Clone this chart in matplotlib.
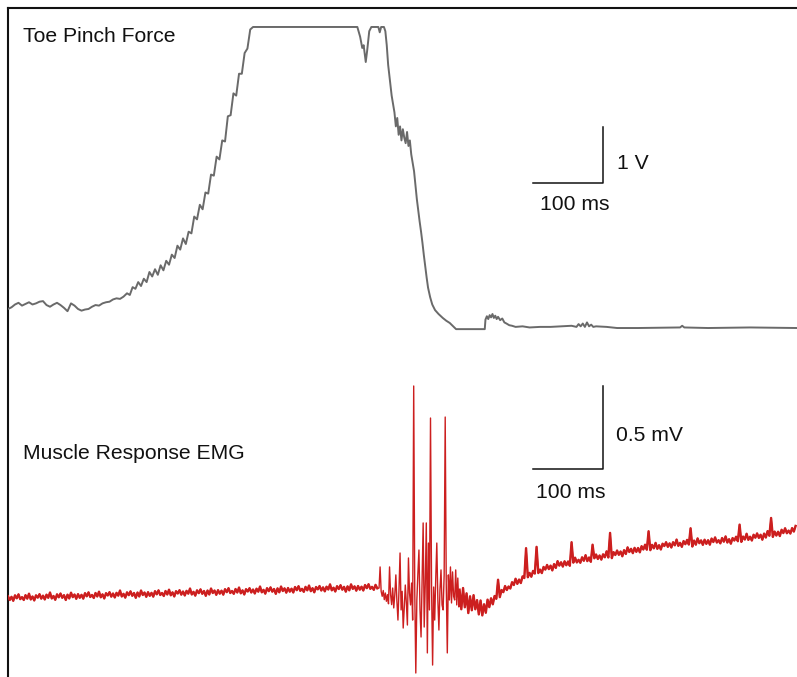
"""
Toe pinch withdrawal trial: force transducer trace above, EMG below,
each with its own calibration bar. Writes out.png.
"""

import matplotlib
matplotlib.use("Agg")
import matplotlib.pyplot as plt
import numpy as np

# ── Canvas ────────────────────────────────────────────────────────────────────

W, H = 797, 677
DPI = 100

FONT = "Liberation Sans"
FS = 15.2
FORCE_COLOR = "#6a6a6a"
EMG_COLOR = "#cc1f1f"
INK = "#111111"

T_MAX_MS = 1127          # visible sweep length
BAR_T0, BAR_LEN_MS = 750, 100

# ── Force trace (V) ───────────────────────────────────────────────────────────

# resting baseline, sampled every 5 ms from 0 ms
FORCE_BASE_V = [0.34, 0.37, 0.42, 0.45, 0.40, 0.43, 0.46, 0.42, 0.44, 0.47,
                0.48, 0.41, 0.38, 0.42, 0.45, 0.41, 0.36, 0.30, 0.44, 0.40,
                0.34, 0.31, 0.33, 0.34, 0.38, 0.41, 0.40, 0.44, 0.46, 0.47,
                0.51, 0.53, 0.52, 0.56]

# pinch onset, sampled every 4 ms from 170 ms
FORCE_RISE_V = [0.62, 0.59, 0.73, 0.70, 0.82, 0.75, 0.88, 0.82, 1.00, 0.92,
                1.05, 0.95, 1.12, 1.03, 1.20, 1.13, 1.31, 1.25, 1.47, 1.40,
                1.60, 1.50, 1.72, 1.69, 1.99, 1.94, 2.20, 2.12, 2.42, 2.40,
                2.74, 2.72, 3.06, 3.01, 3.35, 3.33, 3.78, 3.80, 4.19, 4.15,
                4.54, 4.54, 4.91, 4.99, 5.33, 5.375]

# saturated plateau
FORCE_TOP_T = [354, 499, 503, 506, 508, 510, 511, 513, 516, 519, 529, 531, 533, 537]
FORCE_TOP_V = [5.375, 5.375, 5.2, 5.0, 5.05, 4.85, 4.75, 4.95, 5.3, 5.375,
               5.375, 5.28, 5.375, 5.375]

# release
FORCE_FALL_T = [539, 541, 543, 546, 548, 550, 552, 554, 556, 558,
                560, 562, 564, 566, 568, 570, 572, 574, 576, 578,
                580, 582, 584, 586, 588, 590, 592, 594, 596, 598,
                600, 603, 606, 610, 615, 621, 626, 631, 636, 640]
FORCE_FALL_V = [5.30, 5.05, 4.70, 4.36, 4.15, 4.00, 3.85, 3.60, 3.75, 3.45,
                3.60, 3.35, 3.55, 3.40, 3.30, 3.50, 3.25, 3.35, 3.10, 2.95,
                2.80, 2.55, 2.30, 2.10, 1.90, 1.72, 1.52, 1.30, 1.10, 0.90,
                0.72, 0.55, 0.42, 0.32, 0.25, 0.18, 0.13, 0.09, 0.03, -0.02]

# post-release tail
FORCE_TAIL_T = [681, 682, 684, 686, 688, 690, 692, 694, 696, 698,
                700, 703, 706, 709, 712, 716, 720, 725, 735, 745,
                760, 775, 790, 805, 812, 815, 818, 821, 824, 827,
                830, 833, 836, 840, 855, 870, 900, 960, 963, 966,
                1000, 1060, 1127]
FORCE_TAIL_V = [-0.02, 0.15, 0.21, 0.16, 0.23, 0.19, 0.25, 0.18, 0.22, 0.16,
                0.20, 0.14, 0.17, 0.10, 0.08, 0.05, 0.04, 0.02, 0.03, 0.01,
                0.02, 0.02, 0.03, 0.04, 0.02, 0.07, 0.03, 0.08, 0.02, 0.10,
                0.03, 0.06, 0.02, 0.03, 0.02, 0.00, 0.00, 0.01, 0.04, 0.01,
                0.00, 0.01, 0.00]

# ── EMG trace (µV) ────────────────────────────────────────────────────────────

# every 2.5 ms from 0 ms
EMG_PRE_UV = [10, -12, 7, -17, 16, -2, 22, -7, 5, -12,
              17, -4, 26, -9, 9, -15, 16, 2, 23, -4,
              14, -9, 20, 1, 33, -3, 12, -11, 22, 4,
              27, 1, 17, -12, 20, -3, 32, 5, 21, -5,
              23, 1, 19, -4, 29, 10, 34, 6, 18, 0,
              30, 9, 38, 4, 22, -3, 29, 15, 35, 8,
              27, 3, 31, 14, 45, 9, 25, 2, 34, 17,
              40, 13, 30, 1, 33, 9, 45, 18, 33, 7,
              35, 13, 31, 8, 41, 22, 46, 18, 30, 12,
              42, 21, 50, 16, 34, 9, 41, 27, 47, 20,
              39, 15, 43, 26, 57, 21, 37, 14, 46, 29,
              52, 25, 42, 13, 45, 21, 57, 30, 45, 19,
              47, 26, 44, 20, 53, 35, 59, 30, 42, 25,
              54, 33, 63, 28, 46, 21, 53, 39, 59, 33,
              51, 27, 56, 38, 69, 34, 49, 26, 59, 41,
              64, 38, 54, 25, 58, 34, 69, 42, 58, 32,
              60, 38, 56, 33, 66, 47, 71, 43, 55, 37,
              67, 46, 75, 41, 59, 34, 66, 52, 72, 45,
              64, 40, 68, 51, 82, 46, 62, 39, 71, 54,
              77, 50, 67, 38, 70, 46, 82, 55, 70, 44,
              72, 50, 68, 45, 78, 59, 83, 55, 67, 49,
              79, 58]

# reflex burst, every 1.5 ms from 530 ms
EMG_BURST_UV = [60, 187, 40, 10, 45, -10, 30, -20, 20, -35,
                187, 20, -40, 60, -60, 20, 139, -20, -133, 50,
                271, -72, 40, -181, -60, 78, -30, -163, 241, 30,
                -42, 90, -133, 1277, 40, -452, -12, 150, 289, -72,
                -235, 100, 452, -175, 80, 452, -331, 331, -72, 1084,
                60, -404, 66, -133, 120, 331, -12, -193, 50, 169,
                -42, -72, 139, 1090, 80, -331, 139, -12, 187, -30,
                157, 10, -12, 169, -42, 120, -54]

# recovery, every 2.5 ms from 645 ms
EMG_POST_UV = [50, -68, 60, -56, 28, -91, 10, -74, 17, -68,
               -13, -99, -15, -105, -38, -89, -10, -55, -2, -38,
               12, -5, 110, 5, 48, 35, 72, 48, 69, 57,
               95, 78, 116, 85, 111, 90, 130, 120, 300, 125,
               151, 128, 163, 147, 308, 150, 171, 150, 187, 171,
               199, 174, 195, 166, 204, 181, 222, 195, 215, 189,
               221, 197, 220, 194, 336, 213, 243, 214, 230, 212,
               245, 224, 258, 222, 244, 218, 321, 239, 262, 235,
               256, 231, 263, 245, 281, 244, 392, 240, 276, 259,
               286, 260, 280, 251, 288, 265, 305, 277, 296, 270,
               302, 278, 301, 275, 312, 292, 321, 291, 402, 288,
               320, 299, 332, 296, 318, 292, 327, 313, 336, 308,
               329, 304, 336, 317, 352, 314, 332, 308, 343, 324,
               350, 322, 420, 310, 346, 321, 359, 330, 347, 320,
               351, 326, 348, 321, 358, 337, 365, 334, 348, 329,
               361, 339, 371, 334, 354, 327, 361, 346, 369, 342,
               442, 338, 370, 352, 387, 350, 369, 346, 381, 363,
               389, 362, 381, 351, 388, 364, 403, 375, 482, 368,
               400, 376, 399, 373, 411, 391, 420, 390, 406, 388,
               421, 400, 434]


def sampled(start, step, values):
    return start + step * np.arange(len(values))


def px_box(x0, y0, x1, y1):
    """Figure-fraction rect from pixel corners (origin top-left)."""
    return [x0 / W, 1 - y1 / H, (x1 - x0) / W, (y1 - y0) / H]


def label(x, y, s):
    fig.text(x / W, 1 - y / H, s, ha="left", va="baseline",
             fontsize=FS, family=FONT, color=INK)


# ── Figure ────────────────────────────────────────────────────────────────────

fig = plt.figure(figsize=(W / DPI, H / DPI), dpi=DPI)
fig.patch.set_facecolor("white")

# outer frame: left and top edges only
frame = fig.add_axes(px_box(8, 8, W + 2, H + 2))
frame.set_xticks([])
frame.set_yticks([])
frame.patch.set_alpha(0)
for side in ("right", "bottom"):
    frame.spines[side].set_visible(False)
for side in ("left", "top"):
    frame.spines[side].set_linewidth(1.5)
    frame.spines[side].set_color(INK)

# force panel
ax_f = fig.add_axes(px_box(8, 8, W, 340))
ax_f.set_xlim(0, T_MAX_MS)
ax_f.set_ylim(-0.214, 5.714)
ax_f.axis("off")

force_t = np.concatenate([sampled(0, 5, FORCE_BASE_V), sampled(170, 4, FORCE_RISE_V),
                          FORCE_TOP_T, FORCE_FALL_T, FORCE_TAIL_T])
force_v = np.concatenate([FORCE_BASE_V, FORCE_RISE_V, FORCE_TOP_V,
                          FORCE_FALL_V, FORCE_TAIL_V])
ax_f.plot(force_t, force_v, color=FORCE_COLOR, lw=1.4)

bar_v0 = 2.589
ax_f.plot([BAR_T0, BAR_T0 + BAR_LEN_MS, BAR_T0 + BAR_LEN_MS],
          [bar_v0, bar_v0, bar_v0 + 1.0], color=INK, lw=1.1)

# EMG panel
ax_e = fig.add_axes(px_box(8, 340, W, H))
ax_e.set_xlim(0, T_MAX_MS)
ax_e.set_ylim(-476, 1554)
ax_e.axis("off")

pre_t = sampled(0, 2.5, EMG_PRE_UV)
post_t = sampled(645, 2.5, EMG_POST_UV)
emg_t = np.concatenate([pre_t, sampled(530, 1.5, EMG_BURST_UV), post_t])
emg_uv = np.concatenate([EMG_PRE_UV, EMG_BURST_UV, EMG_POST_UV])
# thin pen through the burst, heavier where the noise band is dense
ax_e.plot(emg_t, emg_uv, color=EMG_COLOR, lw=1.0)
ax_e.plot(pre_t, EMG_PRE_UV, color=EMG_COLOR, lw=1.7)
ax_e.plot(post_t, EMG_POST_UV, color=EMG_COLOR, lw=1.7)

bar_uv0 = 777
ax_e.plot([BAR_T0, BAR_T0 + BAR_LEN_MS, BAR_T0 + BAR_LEN_MS],
          [bar_uv0, bar_uv0, bar_uv0 + 500], color=INK, lw=1.1)

# ── Labels ────────────────────────────────────────────────────────────────────

label(23, 42, "Toe Pinch Force")
label(617, 169, "1 V")
label(540, 210, "100 ms")
label(23, 459, "Muscle Response EMG")
label(616, 441, "0.5 mV")
label(536, 498, "100 ms")

fig.savefig("out.png", dpi=DPI, facecolor="white")
